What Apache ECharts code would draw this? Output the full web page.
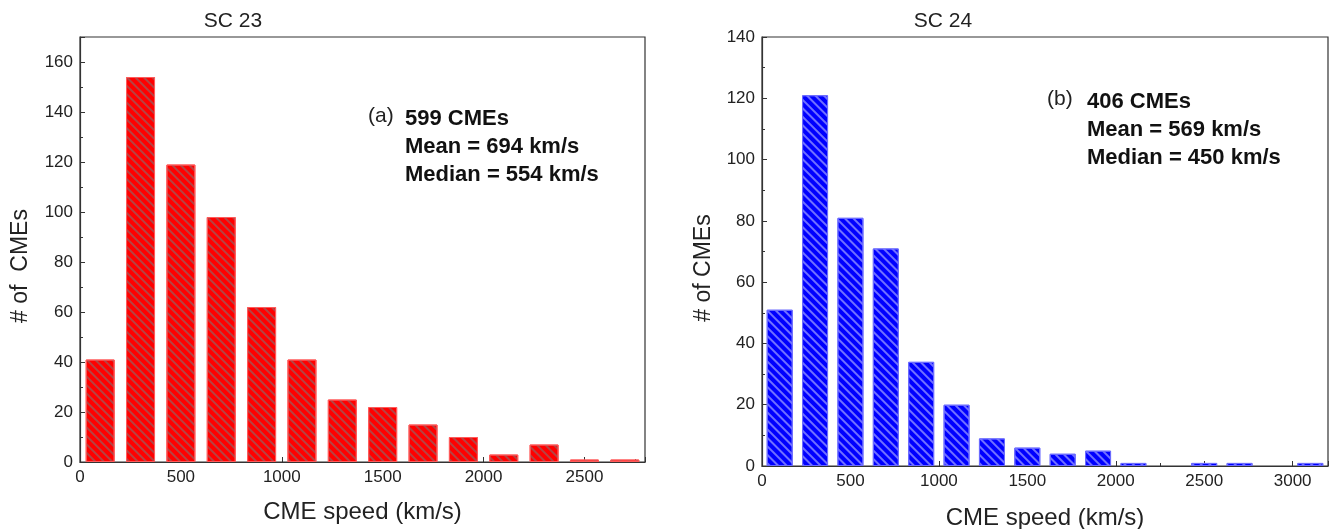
<!DOCTYPE html>
<html>
<head>
<meta charset="utf-8">
<script src="https://cdn.jsdelivr.net/npm/echarts@6/dist/echarts.min.js"></script>
<style>
  html, body { margin: 0; padding: 0; background: #fff; }
  #chart { width: 1332px; height: 529px; }
</style>
</head>
<body>
<div id="chart"></div>
<script>
// CME speed histograms, 200 km/s bins
const binWidth = 200;
const sc23Counts = [41, 154, 119, 98, 62, 41, 25, 22, 15, 10, 3, 7, 1, 1];
const sc24Counts = [51, 121, 81, 71, 34, 20, 9, 6, 4, 5, 1, 0, 1, 1, 0, 1];
const xTicks = [0, 500, 1000, 1500, 2000, 2500, 3000];
const sc23Info = { tag: '(a)', lines: ['599 CMEs', 'Mean = 694 km/s', 'Median = 554 km/s'] };
const sc24Info = { tag: '(b)', lines: ['406 CMEs', 'Mean = 569 km/s', 'Median = 450 km/s'] };

// bar sits at the centre of its bin on a value axis; empty bins get no bar
function toBins(counts) {
  return counts.map((c, i) => [i * binWidth + binWidth / 2, c > 0 ? c : null]);
}

const FONT = '"Liberation Sans", Arial, sans-serif';
const AX = '#333';
const TXT = '#222';

function xAxis(gridIndex, max, gap) {
  return {
    type: 'value', gridIndex, min: 0, max, interval: 500,
    name: 'CME speed (km/s)', nameLocation: 'middle', nameGap: gap,
    nameTextStyle: { fontFamily: FONT, fontSize: 24, color: TXT },
    axisLine: { show: true, lineStyle: { color: AX, width: 1.2 } },
    axisTick: { show: true, inside: true, length: 5, lineStyle: { color: AX } },
    minorTick: { show: true, splitNumber: 2, length: 3, lineStyle: { color: AX } },
    splitLine: { show: false },
    axisLabel: {
      fontFamily: FONT, fontSize: 17, color: TXT, margin: 7, showMaxLabel: false,
      formatter: v => (xTicks.indexOf(v) >= 0 ? String(v) : '')
    }
  };
}

function yAxis(gridIndex, max, showMax) {
  return {
    type: 'value', gridIndex, min: 0, max, interval: 20,
    axisLine: { show: true, lineStyle: { color: AX, width: 1.2 } },
    axisTick: { show: true, inside: true, length: 5, lineStyle: { color: AX } },
    minorTick: { show: true, splitNumber: 2, length: 3, lineStyle: { color: AX } },
    splitLine: { show: false },
    axisLabel: { fontFamily: FONT, fontSize: 17, color: TXT, margin: 7, showMaxLabel: showMax }
  };
}

function hatched(fill, border, stripe) {
  return {
    color: fill,
    borderColor: border,
    borderWidth: 1,
    decal: {
      symbol: 'rect', symbolSize: 1,
      color: stripe,
      dashArrayX: [1, 0],
      dashArrayY: [1.6, 3.6],
      rotation: Math.PI / 4
    }
  };
}

function infoText(x, bx, y, info) {
  return [
    { type: 'text', left: x, top: y + 1, style: { text: info.tag, font: '21px ' + FONT, fill: TXT } },
    { type: 'text', left: bx, top: y, style: {
        text: info.lines.join('\n'), font: 'bold 22px ' + FONT, fill: '#111', lineHeight: 28 } }
  ];
}

// vertical axis titles
function yName(x, y, text) {
  return {
    type: 'text', x, y, rotation: Math.PI / 2,
    style: { text, font: '23px ' + FONT, fill: TXT, align: 'center', verticalAlign: 'middle' }
  };
}

const chart = echarts.init(document.getElementById('chart'), null, { renderer: 'canvas' });
chart.setOption({
  animation: false,
  backgroundColor: '#fff',
  title: [
    { text: 'SC 23', left: 228, top: 6, textAlign: 'center',
      textStyle: { fontFamily: FONT, fontSize: 21, fontWeight: 'normal', color: TXT } },
    { text: 'SC 24', left: 938, top: 6, textAlign: 'center',
      textStyle: { fontFamily: FONT, fontSize: 21, fontWeight: 'normal', color: TXT } }
  ],
  grid: [
    { left: 80, top: 37, width: 565, height: 425, outerBoundsMode: 'none', containLabel: false,
      show: true, borderColor: AX, borderWidth: 1.2, backgroundColor: 'transparent' },
    { left: 762, top: 37, width: 566, height: 429, outerBoundsMode: 'none', containLabel: false,
      show: true, borderColor: AX, borderWidth: 1.2, backgroundColor: 'transparent' }
  ],
  xAxis: [xAxis(0, 2800, 38), xAxis(1, 3200, 40)],
  yAxis: [yAxis(0, 170, false), yAxis(1, 140, true)],
  series: [
    { type: 'bar', xAxisIndex: 0, yAxisIndex: 0, barWidth: 29, data: toBins(sc23Counts),
      itemStyle: hatched('#ff0000', '#ff5a5a', 'rgba(150,95,95,0.7)') },
    { type: 'bar', xAxisIndex: 1, yAxisIndex: 1, barWidth: 26, data: toBins(sc24Counts),
      itemStyle: hatched('#0000ff', '#6a6aff', 'rgba(150,150,255,0.75)') }
  ],
  graphic: [].concat(
    infoText(368, 405, 105, sc23Info),
    infoText(1047, 1087, 88, sc24Info),
    [yName(21, 266, '# of  CMEs'), yName(704, 268, '# of CMEs')]
  )
});
</script>
</body>
</html>
